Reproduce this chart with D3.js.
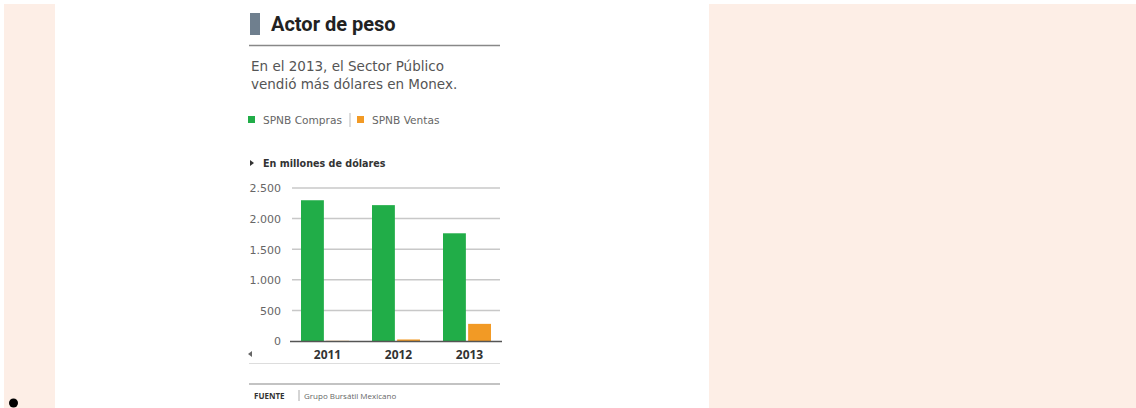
<!DOCTYPE html>
<html><head><meta charset="utf-8">
<script src="https://cdn.jsdelivr.net/npm/d3@7/dist/d3.min.js"></script>
<style>html,body{margin:0;padding:0;background:#fff;}svg{display:block;}</style>
</head><body>
<svg id="c" width="1136" height="408"></svg>
<script>
const years = ["2011", "2012", "2013"];
const seriesNames = ["SPNB Compras", "SPNB Ventas"];
const compras = [2300, 2220, 1760];
const ventas = [3, 25, 280];
const yTicks = [0, 500, 1000, 1500, 2000, 2500];
const yTickLabels = ["0", "500", "1.000", "1.500", "2.000", "2.500"];
const colors = ["#21ad48", "#f29a25"];

const svg = d3.select("#c");
const font = "'DejaVu Sans', 'Noto Sans', sans-serif";
const font2 = "'Open Sans', 'Noto Sans', sans-serif";

// page background strips
svg.append("rect").attr("x", 4).attr("y", 4).attr("width", 51).attr("height", 404).attr("fill", "#fdeee6");
svg.append("rect").attr("x", 709).attr("y", 4).attr("width", 427).attr("height", 404).attr("fill", "#fdeee6");
svg.append("circle").attr("cx", 13.5).attr("cy", 403).attr("r", 4.5).attr("fill", "#000");

// title
svg.append("rect").attr("x", 250).attr("y", 13).attr("width", 10).attr("height", 22).attr("fill", "#6f7f8e");
svg.append("text").attr("x", 271).attr("y", 31).attr("font-family", "Roboto, sans-serif").attr("font-weight", 700)
  .attr("font-size", 20).attr("fill", "#222").text("Actor de peso");
svg.append("line").attr("x1", 249).attr("x2", 500).attr("y1", 45.5).attr("y2", 45.5).attr("stroke", "#888").attr("stroke-width", 1.5);

// subtitle
const sub = ["En el 2013, el Sector Público", "vendió más dólares en Monex."];
sub.forEach((s, i) => svg.append("text").attr("x", 251).attr("y", 71 + i * 17.5).attr("font-family", font)
  .attr("font-size", 13.5).attr("fill", "#555").text(s));

// legend
const lg = svg.append("g");
const lx = [248, 357];
seriesNames.forEach((n, i) => {
  lg.append("rect").attr("x", lx[i]).attr("y", 116).attr("width", 7).attr("height", 7).attr("fill", colors[i]);
  lg.append("text").attr("x", lx[i] + 15).attr("y", 123.5).attr("font-family", font).attr("font-size", 10.6)
    .attr("fill", "#666").text(n);
});
lg.append("line").attr("x1", 350).attr("x2", 350).attr("y1", 113).attr("y2", 127).attr("stroke", "#bbb");

// unit label
svg.append("path").attr("d", "M250,160 L254,163 L250,166 Z").attr("fill", "#333");
svg.append("text").attr("x", 263).attr("y", 167).attr("font-family", font).attr("font-weight", 700)
  .attr("font-size", 9.6).attr("fill", "#333").text("En millones de dólares");

// scales
const y = d3.scaleLinear().domain([0, 2500]).range([341, 188]);
const x0 = d3.scalePoint().domain(years).range([325, 467]);
const x1 = d3.scaleBand().domain(seriesNames).range([-24, 24]).paddingInner(0.09);

// gridlines + y axis labels
const yAxis = d3.axisLeft(y).tickValues(yTicks).tickSize(0).tickFormat((d, i) => yTickLabels[i]);
const ga = svg.append("g").attr("transform", "translate(284,0)").call(yAxis);
ga.select(".domain").remove();
ga.selectAll("text").attr("font-family", font).attr("font-size", 11).attr("fill", "#666").attr("dy", "0.35em");
svg.append("g").selectAll("line").data(yTicks.filter(d => d > 0)).join("line")
  .attr("x1", 292).attr("x2", 500).attr("y1", d => y(d)).attr("y2", d => y(d))
  .attr("stroke", "#c8c8c8").attr("stroke-width", 1.5);

// bars
const data = years.map((yr, i) => ({ year: yr, vals: [compras[i], ventas[i]] }));
const gb = svg.append("g");
data.forEach(d => {
  d.vals.forEach((v, j) => {
    gb.append("rect").attr("x", x0(d.year) + x1(seriesNames[j])).attr("width", x1.bandwidth())
      .attr("y", y(v)).attr("height", y(0) - y(v)).attr("fill", colors[j]);
  });
});

// baseline
svg.append("line").attr("x1", 290).attr("x2", 502).attr("y1", y(0) + 0.5).attr("y2", y(0) + 0.5)
  .attr("stroke", "#555").attr("stroke-width", 1.5);

// x axis labels
const xAxis = d3.axisBottom(x0).tickSize(0);
const gx = svg.append("g").attr("transform", `translate(2,${y(0) + 6})`).call(xAxis);
gx.select(".domain").remove();
gx.selectAll("text").attr("font-family", font2).attr("font-weight", 700).attr("font-size", 12).attr("fill", "#333");
svg.append("path").attr("d", "M252,351 L248,354 L252,357 Z").attr("fill", "#666");
svg.append("line").attr("x1", 249).attr("x2", 500).attr("y1", 363.5).attr("y2", 363.5).attr("stroke", "#ddd");

// source
svg.append("line").attr("x1", 249).attr("x2", 500).attr("y1", 384).attr("y2", 384).attr("stroke", "#888").attr("stroke-width", 1.2);
svg.append("text").attr("x", 254).attr("y", 399).attr("font-family", font2).attr("font-weight", 700)
  .attr("font-size", 8).attr("fill", "#333").text("FUENTE");
svg.append("line").attr("x1", 299).attr("x2", 299).attr("y1", 390).attr("y2", 401).attr("stroke", "#aaa");
svg.append("text").attr("x", 304).attr("y", 399).attr("font-family", font2)
  .attr("font-size", 8).attr("fill", "#666").text("Grupo Bursátil Mexicano");
</script>
</body></html>
